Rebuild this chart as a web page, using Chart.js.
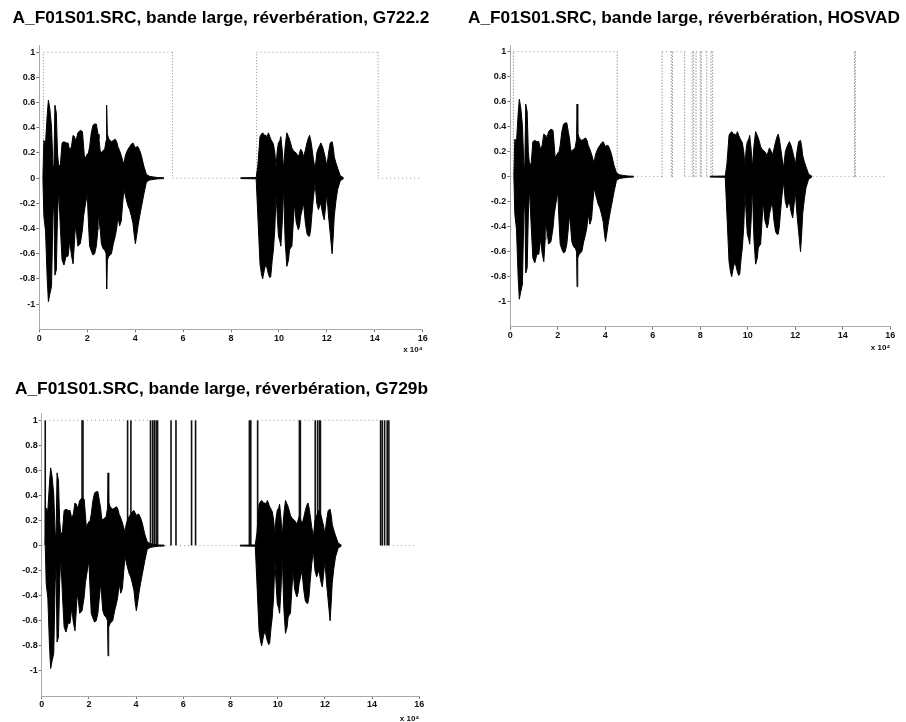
<!DOCTYPE html>
<html>
<head>
<meta charset="utf-8">
<title>A_F01S01.SRC, bande large, réverbération</title>
<script src="https://cdn.jsdelivr.net/npm/chart.js@4.4.1/dist/chart.umd.min.js"></script>
<style>
  html, body { margin: 0; padding: 0; background: #fff; }
  body { position: relative; width: 906px; height: 722px; overflow: hidden; }
  canvas { position: absolute; }
</style>
</head>
<body>
<canvas id="g722Chart" width="442" height="361" style="left:0;top:0"></canvas>
<canvas id="hosvadChart" width="444" height="361" style="left:462px;top:0"></canvas>
<canvas id="g729Chart" width="443" height="361" style="left:0;top:361px"></canvas>
<script>
////////////////////////////////////////////////////////////////////////
// Data (x in units of 10^4 samples)

// first speech burst: envelope of the signal
const burstOneX = [0.15, 0.19, 0.26, 0.33, 0.38, 0.44, 0.51, 0.57, 0.61, 0.65, 0.71, 0.76, 0.81, 0.88, 0.95,
    1.03, 1.12, 1.20, 1.27, 1.34, 1.41, 1.47, 1.50, 1.56, 1.61, 1.71, 1.80, 1.85, 1.89, 2.00, 2.05, 2.10,
    2.17, 2.24, 2.31, 2.38, 2.45, 2.49, 2.54, 2.59, 2.66, 2.73, 2.79, 2.81, 2.84, 2.90, 3.01, 3.09, 3.17,
    3.23, 3.28, 3.35, 3.42, 3.48, 3.53, 3.58, 3.63, 3.70, 3.77, 3.84, 3.91, 3.96, 4.01, 4.06, 4.12, 4.19,
    4.26, 4.32, 4.37, 4.47, 4.60, 4.75, 4.95, 5.20]
const burstOneTop = [0, 0.30, 0.28, 0.50, 0.62, 0.55, 0.41, 0.10, 0.08, 0.58, 0.52, 0.20, 0.09, 0.11, 0.28,
    0.29, 0.28, 0.28, 0.22, 0.25, 0.34, 0.33, 0.30, 0.32, 0.36, 0.38, 0.37, 0.25, 0.15, 0.19, 0.20, 0.25,
    0.36, 0.42, 0.43, 0.43, 0.35, 0.31, 0.22, 0.20, 0.22, 0.23, 0.30, 0.58, 0.35, 0.31, 0.29, 0.30, 0.31,
    0.29, 0.25, 0.22, 0.18, 0.14, 0.11, 0.17, 0.20, 0.23, 0.25, 0.27, 0.28, 0.26, 0.24, 0.25, 0.25, 0.22,
    0.18, 0.13, 0.09, 0.03, 0.015, 0.01, 0.005, 0.003]
const burstOneBottom = [0, -0.30, -0.42, -0.80, -0.98, -0.92, -0.86, -0.30, -0.17, -0.77, -0.73, -0.30, -0.09, -0.40, -0.65,
    -0.69, -0.62, -0.62, -0.50, -0.61, -0.68, -0.50, -0.38, -0.45, -0.54, -0.52, -0.41, -0.30, -0.25, -0.12, -0.35, -0.54,
    -0.58, -0.61, -0.60, -0.54, -0.40, -0.30, -0.40, -0.52, -0.56, -0.57, -0.60, -0.88, -0.65, -0.62, -0.60, -0.52, -0.46,
    -0.40, -0.30, -0.38, -0.34, -0.20, -0.09, -0.13, -0.17, -0.22, -0.25, -0.30, -0.36, -0.45, -0.52, -0.46, -0.38, -0.30,
    -0.23, -0.17, -0.12, -0.03, -0.015, -0.01, -0.005, -0.003]

// second speech burst
const burstTwoX = [8.40, 9.05, 9.12, 9.21, 9.27, 9.32, 9.40, 9.46, 9.51, 9.56, 9.62, 9.66, 9.72, 9.77, 9.83,
    9.88, 9.93, 9.98, 10.04, 10.08, 10.14, 10.19, 10.26, 10.33, 10.40, 10.44, 10.50, 10.54, 10.60, 10.65,
    10.72, 10.81, 10.86, 10.91, 10.97, 11.03, 11.10, 11.17, 11.23, 11.28, 11.33, 11.37, 11.44, 11.51, 11.58,
    11.65, 11.70, 11.75, 11.82, 11.89, 11.95, 12.00, 12.07, 12.14, 12.22, 12.27, 12.31, 12.38, 12.45, 12.56, 12.70]
const burstTwoTop = [0.003, 0.005, 0.10, 0.33, 0.35, 0.36, 0.34, 0.34, 0.33, 0.36, 0.33, 0.31, 0.29, 0.27, 0.20,
    0.09, 0.22, 0.28, 0.30, 0.33, 0.22, 0.07, 0.25, 0.36, 0.33, 0.31, 0.27, 0.24, 0.22, 0.21,
    0.20, 0.17, 0.20, 0.23, 0.21, 0.17, 0.22, 0.28, 0.32, 0.34, 0.30, 0.25, 0.15, 0.07, 0.20,
    0.24, 0.26, 0.28, 0.25, 0.20, 0.15, 0.09, 0.20, 0.28, 0.29, 0.24, 0.17, 0.12, 0.08, 0.02, 0.003]
const burstTwoBottom = [-0.003, -0.005, -0.30, -0.68, -0.76, -0.80, -0.72, -0.68, -0.72, -0.76, -0.79, -0.78, -0.65, -0.57, -0.40,
    -0.12, -0.30, -0.46, -0.50, -0.54, -0.35, -0.07, -0.50, -0.70, -0.65, -0.57, -0.55, -0.54, -0.35, -0.20,
    -0.35, -0.41, -0.38, -0.30, -0.25, -0.20, -0.35, -0.44, -0.46, -0.46, -0.40, -0.30, -0.15, -0.04, -0.20,
    -0.25, -0.22, -0.20, -0.28, -0.33, -0.22, -0.12, -0.30, -0.44, -0.60, -0.45, -0.30, -0.18, -0.09, -0.02, -0.003]

// VAD decisions: switch positions and the value taken from there on
const vadG722X = [0, 0.17, 5.56, 9.07, 14.14, 15.9]
const vadG722Y = [0, 1, 0, 1, 0, 0]

const vadHosX = [0, 0.13, 4.50, 6.39, 6.78, 6.83, 7.34, 7.66, 7.72, 7.82, 8.00, 8.04, 8.27, 8.45, 8.52, 14.49, 14.53, 15.8]
const vadHosY = [0, 1, 0, 1, 0, 1, 0, 1, 0, 1, 0, 1, 0, 1, 0, 1, 0, 0]

const vadG729X = [0, 0.15, 1.71, 1.75, 3.64, 3.78, 4.61, 4.70, 4.77, 4.85, 4.91, 5.48, 5.69, 6.35, 6.52,
    8.80, 8.86, 9.15, 10.92, 10.96, 11.59, 11.69, 11.77, 11.81, 14.36, 14.43, 14.53, 14.64, 14.71, 15.9]
const vadG729Y = [0, 1, 0, 1, 0, 1, 0, 1, 0, 1, 0, 1, 0, 1, 0,
    1, 0, 1, 0, 1, 0, 1, 0, 1, 0, 1, 0, 1, 0, 0]

// axis ticks
const xTickValues = [0, 2, 4, 6, 8, 10, 12, 14, 16]
const yTickValues = [-1, -0.8, -0.6, -0.4, -0.2, 0, 0.2, 0.4, 0.6, 0.8, 1]

////////////////////////////////////////////////////////////////////////
// Helpers

Chart.defaults.font.family = '"Liberation Sans", Arial, sans-serif'

/**
 * Joins the two bursts into one series with a gap between them.
 * @param {number[]} first Values of the first burst
 * @param {number[]} second Values of the second burst
 * @returns Points for a line dataset
 */
function envelope(first, second) {
    const pts = burstOneX.map((x, i) => ({ x: x, y: first[i] }))
    pts.push({ x: 6.8, y: null })
    burstTwoX.forEach((x, i) => pts.push({ x: x, y: second[i] }))
    return pts
}

/**
 * Turns switch positions into the points of a step line.
 * @param {number[]} xs Switch positions
 * @param {number[]} ys Value after each switch
 * @returns Points of the step line
 */
function stepPoints(xs, ys) {
    const pts = [{ x: xs[0], y: ys[0] }]
    for (let i = 1; i < xs.length; i++) {
        pts.push({ x: xs[i], y: ys[i - 1] })
        pts.push({ x: xs[i], y: ys[i] })
    }
    return pts
}

const isVertical = ctx => ctx.p0.parsed.x === ctx.p1.parsed.x

/**
 * Formats a tick value the way the original plots do (1, 0.8, -0.2 ...)
 */
const plainLabel = v => String(Math.round(v * 10) / 10)

/**
 * Creates one of the three panels.
 */
function drawChart(id, title, vadX, vadY, vertStyle, box) {
    const tickFont = { size: 9, weight: 'bold' }
    return new Chart(document.getElementById(id), {
        type: 'line',
        data: {
            datasets: [
                {
                    data: envelope(burstOneTop, burstTwoTop),
                    borderColor: '#000',
                    backgroundColor: '#000',
                    borderWidth: 1,
                    fill: '+1',
                    pointRadius: 0,
                    tension: 0
                },
                {
                    data: envelope(burstOneBottom, burstTwoBottom),
                    borderColor: '#000',
                    borderWidth: 1,
                    fill: false,
                    pointRadius: 0,
                    tension: 0
                },
                {
                    data: stepPoints(vadX, vadY),
                    borderColor: '#999',
                    borderWidth: 1,
                    borderDash: [1, 3],
                    fill: false,
                    pointRadius: 0,
                    tension: 0,
                    segment: {
                        borderColor: ctx => isVertical(ctx) ? vertStyle.color : '#999',
                        borderWidth: ctx => isVertical(ctx) ? vertStyle.width : 1,
                        borderDash: ctx => isVertical(ctx) ? vertStyle.dash : [1, 3]
                    }
                }
            ]
        },
        options: {
            responsive: false,
            animation: false,
            devicePixelRatio: 1,
            layout: {
                padding: { left: box.padLeft, right: box.padRight, top: 0, bottom: 0 }
            },
            plugins: {
                legend: { display: false },
                tooltip: { enabled: false },
                title: {
                    display: true,
                    text: title,
                    color: '#000',
                    font: { size: 17.3, weight: 'bold' },
                    padding: { top: box.titleTop, bottom: box.titleBottom }
                }
            },
            scales: {
                x: {
                    type: 'linear',
                    min: 0,
                    max: 16,
                    afterBuildTicks: s => { s.ticks = xTickValues.map(v => ({ value: v })) },
                    afterFit: s => { s.height = box.xHeight },
                    ticks: { font: tickFont, color: '#111', padding: box.tickPad, maxRotation: 0, autoSkip: false, callback: plainLabel },
                    grid: { drawOnChartArea: false, tickLength: 3, color: '#777' },
                    border: { display: true, color: '#aaa', dash: [1, 3] },
                    title: {
                        display: true,
                        text: 'x 10⁴',
                        align: 'end',
                        color: '#111',
                        font: { size: 8, weight: 'bold' },
                        padding: { top: 0, bottom: box.xTitleBottom }
                    }
                },
                y: {
                    type: 'linear',
                    min: -1.2,
                    max: 1.05,
                    afterBuildTicks: s => { s.ticks = yTickValues.map(v => ({ value: v })) },
                    afterFit: s => { s.width = box.yWidth },
                    ticks: { font: tickFont, color: '#111', padding: 1, callback: plainLabel },
                    grid: { drawOnChartArea: false, tickLength: 3, color: '#777' },
                    border: { display: true, color: '#aaa', dash: [1, 3] }
                },
                // empty margin on the right so the title can be wider than the plot
                margin: {
                    type: 'linear',
                    position: 'right',
                    afterFit: s => { s.width = box.rightWidth },
                    ticks: { display: false },
                    grid: { display: false },
                    border: { display: false }
                }
            }
        }
    })
}

////////////////////////////////////////////////////////////////////////
// Panels

const dottedVert = { color: '#888', width: 1, dash: [1, 2] }

drawChart('g722Chart', 'A_F01S01.SRC, bande large, réverbération, G722.2', vadG722X, vadG722Y, dottedVert,
    { padLeft: 12, padRight: 12, yWidth: 27.3, rightWidth: 7.3, titleTop: 7.6, titleBottom: 17.6, xHeight: 31.7, tickPad: 1, xTitleBottom: 6.2 })

drawChart('hosvadChart', 'A_F01S01.SRC, bande large, réverbération, HOSVAD', vadHosX, vadHosY,
    { color: '#666', width: 1, dash: [1, 2] },
    { padLeft: 6, padRight: 6, yWidth: 42.3, rightWidth: 9.7, titleTop: 7.6, titleBottom: 17, xHeight: 34.3, tickPad: 0, xTitleBottom: 8.2 })

drawChart('g729Chart', 'A_F01S01.SRC, bande large, réverbération, G729b', vadG729X, vadG729Y,
    { color: '#111', width: 1.6, dash: [] },
    { padLeft: 15, padRight: 15, yWidth: 26.7, rightWidth: 8.7, titleTop: 17.9, titleBottom: 14.3, xHeight: 26, tickPad: 0, xTitleBottom: -2 })
</script>
</body>
</html>
